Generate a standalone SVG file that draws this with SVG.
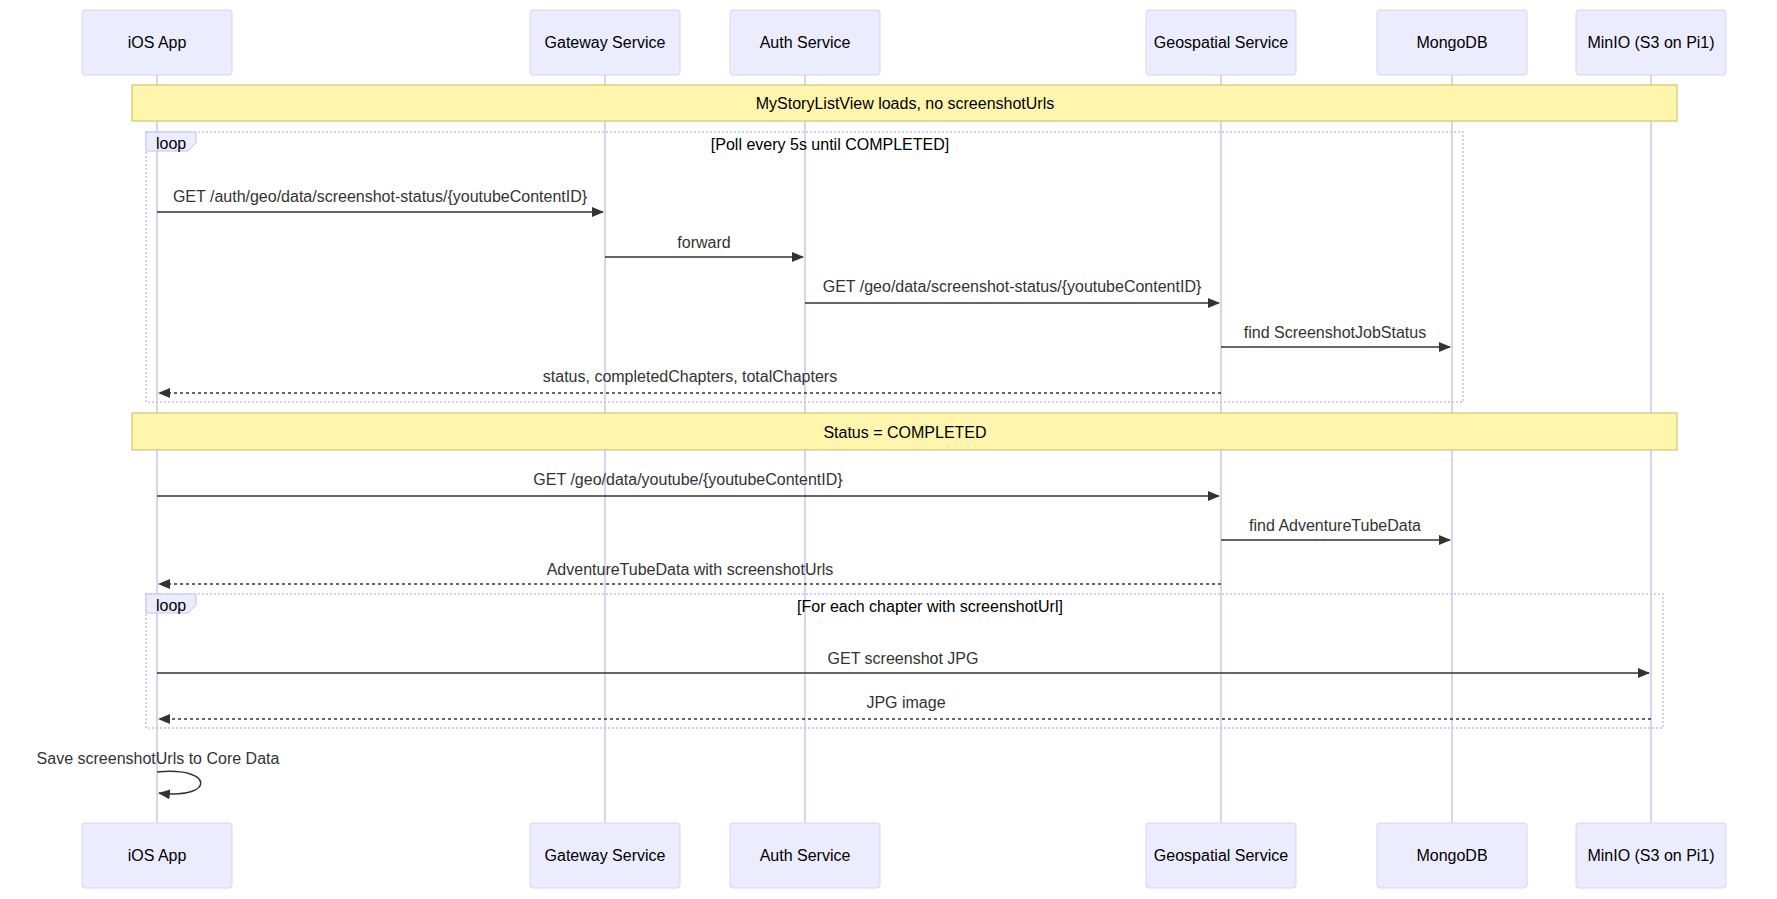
<svg xmlns="http://www.w3.org/2000/svg" width="1777" height="899" viewBox="0 0 1777 899">
<style>
.actor rect{fill:#ECECFF;stroke:#D6D4F4;stroke-width:1}
text{font-family:"Liberation Sans",Arial,sans-serif;font-size:16px;fill:#000}
.ctr{text-anchor:middle}
.msg text{fill:#333;text-anchor:middle}
.life{stroke:#CBC6EE;stroke-width:1.5}
.solid{stroke:#333;stroke-width:1.5;fill:none}
.dash{stroke:#333;stroke-width:1.5;fill:none;stroke-dasharray:3,3}
.note{fill:#FFF5AD;stroke:#C8BE5A;stroke-width:1}
.loop{fill:none;stroke:#C4C0EE;stroke-width:1.5;stroke-dasharray:2,2}
</style>
<defs>
<marker id="ah" viewBox="0 0 12 12" refX="11" refY="6" markerWidth="12" markerHeight="12" orient="auto-start-reverse" markerUnits="userSpaceOnUse"><path d="M0,1 L12,6 L0,11 Z" fill="#333"/></marker>
</defs>
<g id="lifelines">
<line class="life" x1="157" y1="75" x2="157" y2="823"/>
<line class="life" x1="605" y1="75" x2="605" y2="823"/>
<line class="life" x1="805" y1="75" x2="805" y2="823"/>
<line class="life" x1="1221" y1="75" x2="1221" y2="823"/>
<line class="life" x1="1452" y1="75" x2="1452" y2="823"/>
<line class="life" x1="1651" y1="75" x2="1651" y2="823"/>
</g>
<g id="ios-top" class="actor"><rect x="82" y="10" width="150" height="65" rx="3"/><text class="ctr" x="157" y="48">iOS App</text></g>
<g id="gw-top" class="actor"><rect x="530" y="10" width="150" height="65" rx="3"/><text class="ctr" x="605" y="48">Gateway Service</text></g>
<g id="auth-top" class="actor"><rect x="730" y="10" width="150" height="65" rx="3"/><text class="ctr" x="805" y="48">Auth Service</text></g>
<g id="geo-top" class="actor"><rect x="1146" y="10" width="150" height="65" rx="3"/><text class="ctr" x="1221" y="48">Geospatial Service</text></g>
<g id="mongo-top" class="actor"><rect x="1377" y="10" width="150" height="65" rx="3"/><text class="ctr" x="1452" y="48">MongoDB</text></g>
<g id="minio-top" class="actor"><rect x="1576" y="10" width="150" height="65" rx="3"/><text class="ctr" x="1651" y="48">MinIO (S3 on Pi1)</text></g>
<g id="ios-bot" class="actor"><rect x="82" y="823" width="150" height="65" rx="3"/><text class="ctr" x="157" y="861">iOS App</text></g>
<g id="gw-bot" class="actor"><rect x="530" y="823" width="150" height="65" rx="3"/><text class="ctr" x="605" y="861">Gateway Service</text></g>
<g id="auth-bot" class="actor"><rect x="730" y="823" width="150" height="65" rx="3"/><text class="ctr" x="805" y="861">Auth Service</text></g>
<g id="geo-bot" class="actor"><rect x="1146" y="823" width="150" height="65" rx="3"/><text class="ctr" x="1221" y="861">Geospatial Service</text></g>
<g id="mongo-bot" class="actor"><rect x="1377" y="823" width="150" height="65" rx="3"/><text class="ctr" x="1452" y="861">MongoDB</text></g>
<g id="minio-bot" class="actor"><rect x="1576" y="823" width="150" height="65" rx="3"/><text class="ctr" x="1651" y="861">MinIO (S3 on Pi1)</text></g>
<g id="note1"><rect class="note" x="132" y="85" width="1545" height="36"/><text class="ctr" x="905" y="109">MyStoryListView loads, no screenshotUrls</text></g>
<g id="loop1"><rect class="loop" x="146" y="132" width="1317" height="270"/><path d="M146,132 H196 V143 L188,151 H146 Z" fill="#ECECFF" stroke="#C4C0EE"/><text x="156" y="149">loop</text><text class="ctr" x="830" y="150">[Poll every 5s until COMPLETED]</text></g>
<g id="note2"><rect class="note" x="132" y="413" width="1545" height="37"/><text class="ctr" x="905" y="438">Status = COMPLETED</text></g>
<g id="loop2"><rect class="loop" x="146" y="594" width="1517" height="134"/><path d="M146,594 H196 V605 L188,613 H146 Z" fill="#ECECFF" stroke="#C4C0EE"/><text x="156" y="611">loop</text><text class="ctr" x="930" y="612">[For each chapter with screenshotUrl]</text></g>
<g id="connectors" class="msg">
<line class="solid" x1="157" y1="212" x2="603" y2="212" marker-end="url(#ah)"/><text x="380" y="202">GET /auth/geo/data/screenshot-status/{youtubeContentID}</text>
<line class="solid" x1="605" y1="257" x2="803" y2="257" marker-end="url(#ah)"/><text x="704" y="248">forward</text>
<line class="solid" x1="805" y1="303" x2="1219" y2="303" marker-end="url(#ah)"/><text x="1012" y="292">GET /geo/data/screenshot-status/{youtubeContentID}</text>
<line class="solid" x1="1221" y1="347" x2="1450" y2="347" marker-end="url(#ah)"/><text x="1335" y="338">find ScreenshotJobStatus</text>
<line class="dash" x1="1221" y1="393" x2="159" y2="393" marker-end="url(#ah)"/><text x="690" y="382">status, completedChapters, totalChapters</text>
<line class="solid" x1="157" y1="496" x2="1219" y2="496" marker-end="url(#ah)"/><text x="688" y="485">GET /geo/data/youtube/{youtubeContentID}</text>
<line class="solid" x1="1221" y1="540" x2="1450" y2="540" marker-end="url(#ah)"/><text x="1335" y="531">find AdventureTubeData</text>
<line class="dash" x1="1221" y1="584" x2="159" y2="584" marker-end="url(#ah)"/><text x="690" y="575">AdventureTubeData with screenshotUrls</text>
<line class="solid" x1="157" y1="673" x2="1649" y2="673" marker-end="url(#ah)"/><text x="903" y="664">GET screenshot JPG</text>
<line class="dash" x1="1651" y1="719" x2="159" y2="719" marker-end="url(#ah)"/><text x="906" y="708">JPG image</text>
<path class="solid" d="M157,772 C215,766 215,800 159,793" marker-end="url(#ah)"/><text x="158" y="764">Save screenshotUrls to Core Data</text>
</g>
</svg>
